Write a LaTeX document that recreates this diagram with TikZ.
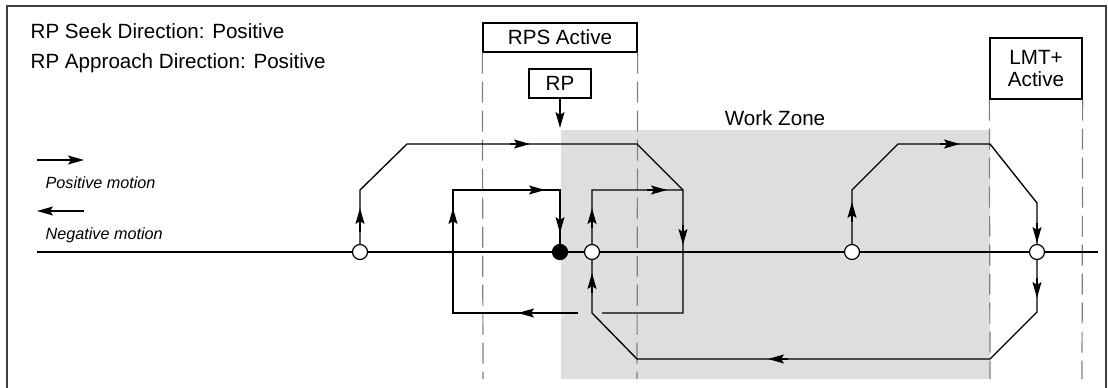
\documentclass[tikz,border=0pt]{standalone}
\usepackage{fontspec}
\setmainfont{Liberation Sans}
\usetikzlibrary{arrows.meta}
\definecolor{zone}{RGB}{222,222,222}
\definecolor{guidegray}{RGB}{128,128,128}
\definecolor{framegray}{RGB}{64,64,64}
\newcommand{\mainfs}{\fontsize{20.6}{22}\selectfont}
\newcommand{\legendfs}{\fontsize{16.2}{19}\selectfont\itshape}
\begin{document}
\begin{tikzpicture}[x=1pt,y=-1pt,line width=1.35pt,
  every node/.style={inner sep=0pt,font=\mainfs},
  arr/.style={-{Stealth[length=16pt,width=9pt,inset=3pt]}},
  guide/.style={draw=guidegray,line width=1.2pt,dash pattern=on 21pt off 8pt},
  labelbox/.style={draw,line width=1.3pt,inner sep=0pt},
  openstop/.style={circle,draw,fill=white,line width=1.2pt,minimum size=15pt},
  fullstop/.style={circle,draw,fill=black,line width=1.2pt,minimum size=15pt}]
\useasboundingbox (0,0) rectangle (1108,388);
% frame
\draw[framegray,line width=2pt] (7,390) -- (7,6) -- (1106,6) -- (1106,390);
% work zone
\fill[zone] (561,130) rectangle (990,379);
\node[anchor=base] (wz) at (775,125) {Work Zone};
% texts
\node[anchor=base west] (t1) at (30,38) {RP Seek Direction: Positive};
\node[anchor=base west] (t2) at (30,68) {RP Approach Direction: Positive};
% legend
\coordinate (lpa) at (37,160); \coordinate (lpb) at (84,160);
\draw[arr] (lpa) -- (lpb);
\node[anchor=base west,font=\legendfs] (lp) at (45,188) {Positive motion};
\coordinate (lna) at (84,211); \coordinate (lnb) at (37,211);
\draw[arr] (lna) -- (lnb);
\node[anchor=base west,font=\legendfs] (ln) at (45,239) {Negative motion};
% boxes
\node[labelbox,minimum width=154pt,minimum height=29pt] (rps) at (560,37.5) {RPS Active};
\node[labelbox,minimum width=62pt,minimum height=29pt] (rp) at (560,83.5) {RP};
\node[labelbox,minimum width=92pt,minimum height=61pt,align=center] (lmt) at (1036,68.5) {LMT+\\Active};
\coordinate (rpt) at (560,128);
\draw[arr] (rp.south) -- (rpt);
% guides
\coordinate (g1) at (483,379); \coordinate (g2) at (637,379);
\coordinate (g3) at (990,379); \coordinate (g4) at (1082,379);
\draw[guide] (rps.south west) -- (g1);
\draw[guide] (rps.south east) -- (g2);
\draw[guide] (lmt.south west) -- (g3);
\draw[guide] (lmt.south east) -- (g4);
% axis
\coordinate (axl) at (37,252); \coordinate (axr) at (1098,252);
\draw (axl) -- (axr);
% stop positions
\coordinate (p1) at (360,252);
\coordinate (p2) at (560,252);
\coordinate (p3) at (592,252);
\coordinate (p4) at (852,252);
\coordinate (p5) at (1037,252);
% seek path
\draw (p1) -- (360,190) -- (407,144) -- (637,144) -- (683,190) -- (683,313) -- (602,313);
\draw (578,313) -- (453,313) -- (453,190) -- (560,190) -- (p2);
% second path
\draw (p4) -- (852,190) -- (898,144) -- (990,144) -- (1037,203) -- (p5) -- (1037,312) -- (990,359) -- (637,359) -- (592,313) -- (p3) -- (592,190) -- (683,190);
% mid arrows
\draw[arr] (360,232) -- (360,208);
\draw[arr] (510,144) -- (530,144);
\draw[arr] (683,225) -- (683,245);
\draw[arr] (538,313) -- (518,313);
\draw[arr] (453,228) -- (453,208);
\draw[arr] (525,190) -- (545,190);
\draw[arr] (560,213) -- (560,233);
\draw[arr] (592,228) -- (592,208);
\draw[arr] (647,190) -- (667,190);
\draw[arr] (592,293) -- (592,273);
\draw[arr] (852,222) -- (852,202);
\draw[arr] (940,144) -- (960,144);
\draw[arr] (1037,223) -- (1037,243);
\draw[arr] (1037,278) -- (1037,298);
\draw[arr] (788,359) -- (768,359);
% circles
\node[openstop] (s1) at (p1) {};
\node[fullstop] (s2) at (p2) {};
\node[openstop] (s3) at (p3) {};
\node[openstop] (s4) at (p4) {};
\node[openstop] (s5) at (p5) {};
\end{tikzpicture}
\end{document}
